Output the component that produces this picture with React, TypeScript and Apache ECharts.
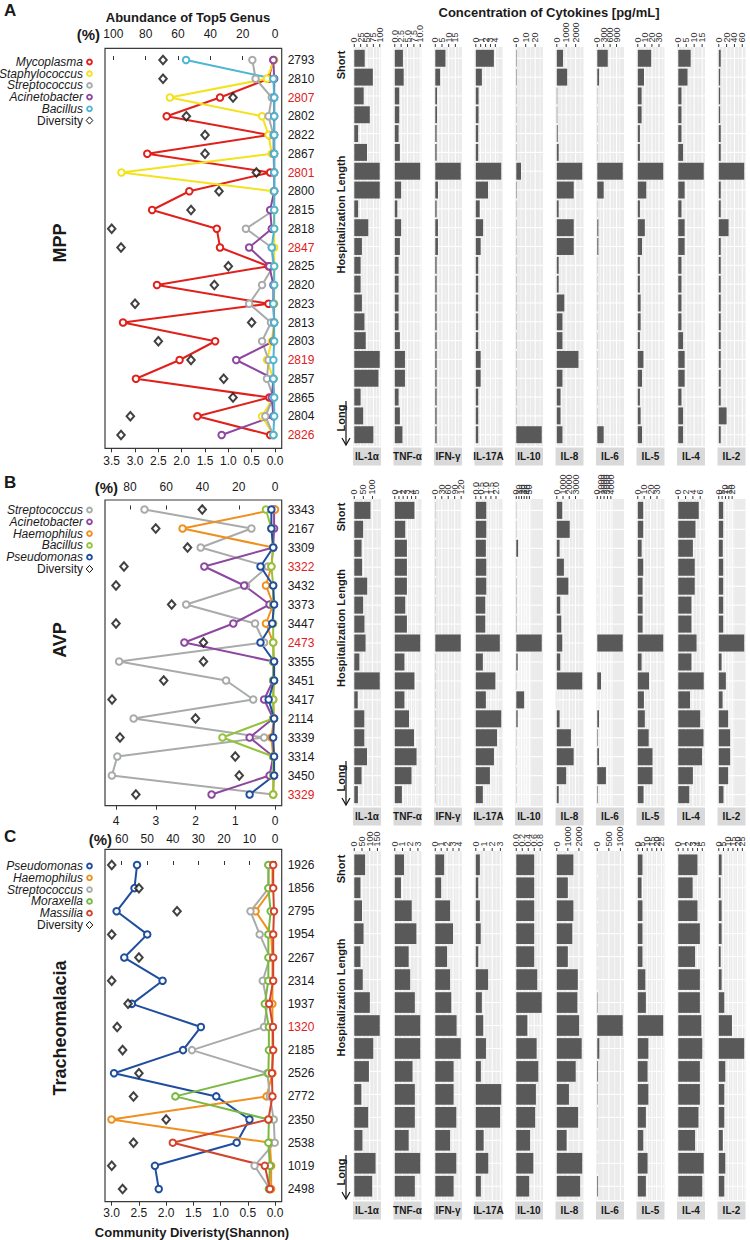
import React, { useEffect, useRef } from "react";
import * as echarts from "echarts";

const FONT = '"Liberation Sans", Arial, Helvetica, sans-serif';
const CYTOKINES = ["IL-1α", "TNF-α", "IFN-γ", "IL-17A", "IL-10", "IL-8", "IL-6", "IL-5", "IL-4", "IL-2"];

// ---------------- Panel A : MPP ----------------
const idsA = ["2793", "2810", "2807", "2802", "2822", "2867", "2801", "2800", "2815", "2818", "2847", "2825", "2820", "2823", "2813", "2803", "2819", "2857", "2865", "2804", "2826"];
const redIdsA = ["2807", "2801", "2847", "2819", "2826"];
const mycoplasmaA = [1, 4, 34, 67, 3.5, 79, 3, 53, 76, 36, 34, 4, 73, 4, 94, 37, 59, 86, 3.5, 48, 3];
const staphylococcusA = [0.5, 5, 65, 8, 4, 2, 95, 1, 0.5, 0.5, 0.5, 0.5, 0.5, 0.5, 0.5, 2, 5, 1, 1, 8, 1];
const streptococcusA = [14, 12, 2, 4, 1, 1, 0.5, 0.5, 0.5, 18, 2, 1, 8, 16, 2.5, 8, 4, 5, 1, 6, 1];
const acinetobacterA = [1, 0.5, 0.5, 0.5, 0.5, 0.5, 0.5, 0.5, 3, 2, 16, 3.5, 1, 1, 0.5, 1, 24, 1, 2, 1, 33];
const bacillusA = [55, 1, 0.5, 0.5, 0.5, 0.5, 0.5, 0.5, 0.5, 0.5, 2, 0.5, 0.5, 1, 0.5, 0.5, 1, 1, 0.5, 0.5, 1];
const diversityA = [2.4, 2.4, 0.9, 1.9, 1.5, 1.5, 0.4, 1.2, 1.8, 3.5, 3.3, 1.0, 1.3, 3.0, 0.5, 2.5, 1.8, 1.1, 0.9, 3.1, 3.3];
const pctTicksA = [0, 20, 40, 60, 80, 100];
const shannonTicksA = [0, 0.5, 1, 1.5, 2, 2.5, 3, 3.5];
const il1aA = [41, 73, 37, 61, 15, 50, 100, 100, 15, 55, 30, 25, 25, 30, 40, 45, 100, 95, 25, 35, 75];
const tnfA = [3.2, 3.5, 1.75, 1.75, 1.5, 2, 10, 2.5, 1, 2.5, 2, 1.5, 1.5, 1.5, 1.5, 2, 4, 4, 1.5, 2, 3];
const ifngA = [7.6, 3.6, 1.3, 1.3, 1, 1, 19, 2, 1, 2, 2, 1, 1, 1, 1, 1, 1, 1, 1, 1, 1];
const il17aA = [3.7, 1.25, 0.57, 0.57, 0.5, 0.5, 5.2, 2.5, 0.8, 1.5, 1, 0.5, 0.5, 0.5, 0.5, 0.5, 1, 1, 0.5, 0.5, 0.5];
const il10A = [0.5, 0.5, 0.3, 0.3, 0.3, 0.3, 5, 0.5, 0.3, 0.3, 0.3, 0.3, 0.3, 0.3, 0.3, 0.3, 0.3, 0.3, 0.3, 0.3, 27];
const il8A = [660, 1100, 50, 50, 100, 200, 2700, 1800, 200, 1800, 1800, 200, 200, 800, 600, 600, 2300, 600, 400, 400, 600];
const il6A = [490, 83, 10, 10, 10, 10, 1190, 300, 10, 50, 50, 10, 10, 10, 10, 10, 10, 10, 10, 10, 300];
const il5A = [19, 8.8, 5.4, 5.4, 3, 3, 36, 12, 3, 10, 6, 3, 3, 4, 4, 3, 8, 6, 3, 4, 6];
const il4A = [7.8, 5.8, 2, 2, 2, 3, 16, 4, 2, 4, 4, 2, 2, 2, 2, 3, 4, 4, 2, 3, 3];
const il2A = [5, 3.5, 3.5, 3.5, 5, 5, 65, 5, 5, 25, 5, 5, 5, 5, 5, 5, 5, 5, 5, 20, 5];
const cytoTicksA = [[0, 25, 50, 75, 100], [0, 2.5, 5, 7.5, 10], [0, 5, 10, 15], [0, 1, 2, 3, 4], [0, 10, 20], [0, 1000, 2000], [0, 300, 600, 900], [0, 10, 20, 30], [0, 5, 10, 15], [0, 20, 40, 60]];

// ---------------- Panel B : AVP ----------------
const idsB = ["3343", "2167", "3309", "3322", "3432", "3373", "3447", "2473", "3355", "3451", "3417", "2114", "3339", "3314", "3450", "3329"];
const redIdsB = ["3322", "2473", "3329"];
const streptococcusB = [72, 13, 41, 4, 16, 49, 11, 6, 86, 27, 12, 78, 6, 87, 90, 1];
const acinetobacterB = [0.5, 0.5, 1, 39, 17, 3, 23, 50, 1, 1, 6, 1, 14, 1, 3, 35];
const haemophilusB = [0, 51, 1, 2, 5, 1, 5, 1, 0.5, 0.5, 1, 0.5, 2, 1, 0.5, 1];
const bacillusB = [5, 2, 1, 2, 1, 1, 1, 1, 1, 1, 1, 1, 29, 1, 1, 1];
const pseudomonasB = [2, 2, 1, 8, 1, 0.5, 1.5, 8, 0.5, 0.5, 3.5, 0.5, 1, 0.5, 0.5, 14];
const diversityB = [1.83, 3.0, 2.2, 3.8, 4.0, 2.6, 4.0, 1.8, 1.8, 2.8, 4.1, 2.0, 3.9, 1.0, 0.9, 3.5];
const pctTicksB = [0, 20, 40, 60, 80];
const shannonTicksB = [0, 1, 2, 3, 4];
const il1aB = [89, 49, 40, 43, 71, 49, 56, 62, 28, 140, 19, 55, 55, 70, 40, 20];
const tnfB = [4.7, 2.5, 2.9, 2.9, 2.9, 2.5, 2.9, 6.08, 2.3, 4.7, 2.3, 3.4, 4.6, 5.2, 4.0, 1.7];
const ifngB = [1, 1, 1, 1, 1, 1, 1, 118, 1, 1, 1, 1, 1, 1, 1, 1];
const il17aB = [1.04, 1.04, 1.0, 1.04, 1.04, 0.94, 0.94, 2.38, 0.7, 1.94, 1.0, 2.52, 2.1, 1.8, 1.4, 0.7];
const il10B = [0.8, 0.8, 7, 0.8, 1.2, 1.2, 1.2, 97, 5.4, 0.8, 30, 5.3, 0.8, 0.8, 0.8, 0.8];
const il8B = [880, 2070, 450, 1140, 1850, 555, 715, 877, 555, 4070, 15, 450, 2260, 2700, 1500, 300];
const il6B = [10, 10, 10, 10, 20, 20, 20, 7500, 10, 1100, 10, 510, 170, 510, 2550, 170];
const il5B = [8.5, 8.5, 6, 8.5, 7.5, 7.5, 7.5, 39.7, 5.9, 17.5, 9.6, 11, 17, 23, 23, 9];
const il4B = [5.6, 4.7, 4, 4.5, 4.5, 3.6, 3.6, 5.0, 3.6, 6.96, 3.2, 6.0, 6.9, 6.5, 4, 3];
const il2B = [6.6, 6.6, 6, 6.6, 6.6, 6.6, 6.6, 38, 4.2, 10.6, 5.7, 14, 17, 17, 14, 7];
const cytoTicksB = [[0, 50, 100], [0, 1, 2, 3, 4, 5], [0, 30, 60, 90, 120], [0, 0.5, 1, 1.5, 2], [0, 10, 20, 30, 40, 50], [0, 1000, 2000, 3000], [0, 1000, 2000, 3000, 4000], [0, 10, 20, 30], [0, 2, 4, 6], [0, 5, 10, 15, 20]];

// ---------------- Panel C : Tracheomalacia ----------------
const idsC = ["1926", "1856", "2795", "1954", "2267", "2314", "1937", "1320", "2185", "2526", "2772", "2350", "2538", "1019", "2498"];
const redIdsC = ["1320"];
const pseudomonasC = [54, 55, 62, 50, 59, 44, 56, 29, 36, 63, 23, 10, 15, 47, 45.5];
const haemophilusC = [1, 1, 7.6, 1.5, 1, 1, 1, 1, 1, 1, 3.3, 64, 2, 1.5, 1.5];
const streptococcusC = [2.5, 2.5, 9.6, 6, 2, 4.8, 3, 4.3, 32.5, 3, 2, 0.5, 0.1, 8, 2];
const moraxellaC = [2.6, 2.6, 1.7, 2.6, 2.6, 2.6, 4, 2.4, 2.4, 2.6, 39, 2.4, 2.6, 2, 2.4];
const massiliaC = [0.7, 0.7, 0.4, 0.7, 0.7, 0.7, 2.3, 0.8, 0.7, 1.2, 1, 2.6, 40, 4, 2];
const diversityC = [3.0, 2.5, 1.8, 3.0, 2.5, 3.0, 2.7, 2.9, 2.8, 2.5, 2.6, 2.0, 2.6, 3.0, 2.8];
const pctTicksC = [0, 10, 20, 30, 40, 50, 60];
const shannonTicksC = [0, 0.5, 1, 1.5, 2, 2.5, 3];
const il1aC = [70, 40, 50, 60, 40, 55, 101, 165, 123, 95, 46, 90, 53, 138, 116];
const tnfC = [1.2, 0.8, 2.2, 2.8, 1.8, 2.0, 2.6, 3.3, 3.3, 2.3, 2.6, 2.6, 1.8, 3.3, 2.6];
const ifngC = [1.5, 1.0, 2.5, 3.0, 2.0, 2.5, 2.7, 3.6, 4.3, 3.1, 3.1, 3.55, 2.5, 3.55, 3.1];
const il17aC = [0.5, 0.3, 0.5, 0.6, 0.3, 1.5, 0.74, 0.91, 1.24, 0.62, 3.1, 2.97, 0.96, 1.52, 0.62];
const il10C = [0.6, 0.6, 0.6, 0.6, 0.6, 0.7, 0.85, 0.37, 0.68, 0.735, 0.655, 0.63, 0.46, 0.57, 0.43];
const il8C = [1500, 1000, 1500, 1400, 1000, 1900, 1860, 2020, 2250, 1710, 1100, 1930, 890, 2300, 2110];
const il6C = [5, 5, 5, 5, 5, 5, 18, 1100, 88, 33, 18, 10, 5, 5, 33];
const il5C = [5, 4, 5, 5, 5, 8, 8.6, 27, 11.2, 10.4, 11.2, 8.6, 5.8, 10.4, 8.6];
const il4C = [4, 3, 4, 4.5, 3.5, 4.5, 4.5, 4.8, 5.0, 4.5, 4.5, 4.2, 3.5, 5.3, 5.0];
const il2C = [3, 2, 3, 3, 2, 3, 5.8, 14, 27, 6.9, 5.8, 5.8, 4.3, 6.9, 5.8];
const cytoTicksC = [[0, 50, 100, 150], [0, 1, 2, 3], [0, 1, 2, 3, 4], [0, 1, 2, 3], [0, 0.2, 0.4, 0.6, 0.8], [0, 1000, 2000], [0, 500, 1000], [0, 5, 10, 15, 20, 25], [0, 1, 2, 3, 4, 5], [0, 5, 10, 15, 20, 25]];

// ---------------- colours ----------------
const C_RED = "#e0201b";
const C_YELLOW = "#f3e21c";
const C_GRAY = "#a9abab";
const C_PURPLE = "#8e479f";
const C_CYAN = "#4db6d3";
const C_ORANGE = "#ef901e";
const C_LIME = "#93c33b";
const C_BLUE = "#1f4e9e";
const C_GREEN = "#78b843";
const C_BRICK = "#d4432b";

// ---------------- layout (positions only) ----------------
const BOX_LEFT = 105;
const BOX_RIGHT = 281.7;
const ZERO_X = 275;
const CYTO_LEFT = 353;
const CYTO_STEP = 40.5;
const CYTO_W = 28;

const panels = [
  {
    letter: "A", letterY: 10, name: "MPP", nameY: 243,
    ids: idsA, red: redIdsA,
    genera: [
      { name: "Mycoplasma", color: C_RED, values: mycoplasmaA },
      { name: "Staphylococcus", color: C_YELLOW, values: staphylococcusA },
      { name: "Streptococcus", color: C_GRAY, values: streptococcusA },
      { name: "Acinetobacter", color: C_PURPLE, values: acinetobacterA },
      { name: "Bacillus", color: C_CYAN, values: bacillusA },
    ],
    diversity: diversityA, pctTicks: pctTicksA, shTicks: shannonTicksA, shDec: 1,
    cyto: [il1aA, tnfA, ifngA, il17aA, il10A, il8A, il6A, il5A, il4A, il2A], cytoTicks: cytoTicksA,
    boxTop: 48.3, boxBottom: 448.3, row0: 60, step: 18.75, pctPx: 1.617, shPx: 46.66,
    topMargin: 8, botMargin: 7, pctLabelRight: 100, pctLabelY: 34,
    legendY: 62, legendStep: 11.7, cTop: 47, cBottom: 446,
  },
  {
    letter: "B", letterY: 482, name: "AVP", nameY: 640,
    ids: idsB, red: redIdsB,
    genera: [
      { name: "Streptococcus", color: C_GRAY, values: streptococcusB },
      { name: "Acinetobacter", color: C_PURPLE, values: acinetobacterB },
      { name: "Haemophilus", color: C_ORANGE, values: haemophilusB },
      { name: "Bacillus", color: C_LIME, values: bacillusB },
      { name: "Pseudomonas", color: C_BLUE, values: pseudomonasB },
    ],
    diversity: diversityB, pctTicks: pctTicksB, shTicks: shannonTicksB, shDec: 0,
    cyto: [il1aB, tnfB, ifngB, il17aB, il10B, il8B, il6B, il5B, il4B, il2B], cytoTicks: cytoTicksB,
    boxTop: 500, boxBottom: 805.7, row0: 509.5, step: 19, pctPx: 1.8125, shPx: 39.75,
    topMargin: 7, botMargin: 9, pctLabelRight: 118, pctLabelY: 487,
    legendY: 510, legendStep: 11.8, cTop: 499, cBottom: 806,
  },
  {
    letter: "C", letterY: 836, name: "Tracheomalacia", nameY: 1028,
    ids: idsC, red: redIdsC,
    genera: [
      { name: "Pseudomonas", color: C_BLUE, values: pseudomonasC },
      { name: "Haemophilus", color: C_ORANGE, values: haemophilusC },
      { name: "Streptococcus", color: C_GRAY, values: streptococcusC },
      { name: "Moraxella", color: C_GREEN, values: moraxellaC },
      { name: "Massilia", color: C_BRICK, values: massiliaC },
    ],
    diversity: diversityC, pctTicks: pctTicksC, shTicks: shannonTicksC, shDec: 1,
    cyto: [il1aC, tnfC, ifngC, il17aC, il10C, il8C, il6C, il5C, il4C, il2C], cytoTicks: cytoTicksC,
    boxTop: 849.3, boxBottom: 1201.7, row0: 865, step: 23.14, pctPx: 2.555, shPx: 54.43,
    topMargin: 4, botMargin: 5, pctLabelRight: 112, pctLabelY: 839,
    legendY: 866, legendStep: 11.8, cTop: 851, cBottom: 1200,
  },
];

function fmtTick(ticks: number[]) {
  const dec = ticks.some((t) => Math.abs(t - Math.round(t)) > 1e-9) ? 1 : 0;
  return (v: number) => v.toFixed(dec);
}

function buildOption() {
  const grid: any[] = [];
  const xAxis: any[] = [];
  const yAxis: any[] = [];
  const series: any[] = [];
  const graphic: any[] = [];

  const txt = (text: string, x: number, y: number, opts: any = {}) => ({
    type: "text",
    x, y,
    rotation: opts.rotation || 0,
    silent: true,
    style: {
      text,
      fill: opts.fill || "#1a1a1a",
      fontSize: opts.fontSize || 12,
      fontWeight: opts.fontWeight || "normal",
      fontStyle: opts.fontStyle || "normal",
      fontFamily: FONT,
      align: opts.align || "center",
      verticalAlign: "middle",
      textAlign: opts.align || "center",
      textVerticalAlign: "middle",
    },
  });

  graphic.push(txt("Abundance of Top5 Genus", 188, 17, { fontWeight: "bold", fontSize: 13 }));
  graphic.push(txt("Concentration of Cytokines [pg/mL]", 549, 12, { fontWeight: "bold", fontSize: 13 }));
  graphic.push(txt("Community Diveristy(Shannon)", 192, 1232, { fontWeight: "bold", fontSize: 13 }));

  const labelCommon = { interval: 0, hideOverlap: false, showMinLabel: true, showMaxLabel: true };

  panels.forEach((p) => {
    const n = p.ids.length;
    graphic.push(txt(p.letter, 4, p.letterY, { fontWeight: "bold", fontSize: 17, align: "left" }));
    graphic.push(txt(p.name, 60, p.nameY, { fontWeight: "bold", fontSize: 18, rotation: Math.PI / 2 }));
    graphic.push(txt("(%)", p.pctLabelRight, p.pctLabelY, { fontWeight: "bold", fontSize: 15, align: "right" }));

    // legend
    p.genera.forEach((g, k) => {
      const y = p.legendY + k * p.legendStep;
      graphic.push(txt(g.name, 83, y, { fontStyle: "italic", fontSize: 12, align: "right" }));
      graphic.push({ type: "circle", silent: true, shape: { cx: 89.5, cy: y, r: 2.4 }, style: { fill: "#fff", stroke: g.color, lineWidth: 1.9 } });
    });
    const dy = p.legendY + 5 * p.legendStep;
    graphic.push(txt("Diversity", 83, dy, { fontSize: 12, align: "right" }));
    graphic.push({ type: "polygon", silent: true, shape: { points: [[89.5, dy - 3.6], [92.8, dy], [89.5, dy + 3.6], [86.2, dy]] }, style: { fill: "#fff", stroke: "#111", lineWidth: 1 } });

    // left plot grid
    const gi = grid.length;
    grid.push({
      left: BOX_LEFT, top: p.boxTop, width: BOX_RIGHT - BOX_LEFT, height: p.boxBottom - p.boxTop,
      show: true, borderColor: "#3a3a3a", borderWidth: 1.2, backgroundColor: "transparent",
    });
    const pctMin = -(BOX_RIGHT - ZERO_X) / p.pctPx;
    const pctMax = (ZERO_X - BOX_LEFT) / p.pctPx;
    const shMin = -(BOX_RIGHT - ZERO_X) / p.shPx;
    const shMax = (ZERO_X - BOX_LEFT) / p.shPx;
    const xTop = xAxis.length;
    xAxis.push({
      type: "value", gridIndex: gi, position: "top", inverse: true, min: pctMin, max: pctMax,
      axisLine: { show: false }, splitLine: { show: false },
      axisTick: { show: true, customValues: p.pctTicks, length: 4, lineStyle: { color: "#333" } },
      axisLabel: { ...labelCommon, customValues: p.pctTicks, margin: p.topMargin, fontSize: 12, color: "#1a1a1a", fontFamily: FONT },
    });
    const xBot = xAxis.length;
    xAxis.push({
      type: "value", gridIndex: gi, position: "bottom", inverse: true, min: shMin, max: shMax,
      axisLine: { show: false }, splitLine: { show: false },
      axisTick: { show: true, customValues: p.shTicks, length: 4, lineStyle: { color: "#333" } },
      axisLabel: { ...labelCommon, customValues: p.shTicks, margin: p.botMargin, fontSize: 12, color: "#1a1a1a", fontFamily: FONT, formatter: (v: number) => v.toFixed(p.shDec) },
    });
    const yi = yAxis.length;
    yAxis.push({
      type: "value", gridIndex: gi, position: "right", inverse: true,
      min: (p.boxTop - p.row0) / p.step, max: (p.boxBottom - p.row0) / p.step,
      axisLine: { show: false }, axisTick: { show: false }, splitLine: { show: false },
      axisLabel: {
        ...labelCommon,
        customValues: p.ids.map((_, i) => i), margin: 6,
        formatter: (v: number) => {
          const id = p.ids[Math.round(v)];
          return p.red.includes(id) ? `{r|${id}}` : `{n|${id}}`;
        },
        rich: {
          r: { color: C_RED, fontSize: 12, fontFamily: FONT },
          n: { color: "#1a1a1a", fontSize: 12, fontFamily: FONT },
        },
      },
    });
    p.genera.forEach((g) => {
      series.push({
        type: "line", name: g.name, xAxisIndex: xTop, yAxisIndex: yi,
        data: g.values.map((v, i) => [v, i]),
        symbol: "emptyCircle", symbolSize: 6.5, clip: false,
        lineStyle: { color: g.color, width: 2 },
        itemStyle: { color: g.color, borderColor: g.color, borderWidth: 2 },
        silent: true,
      });
    });
    series.push({
      type: "scatter", name: "Diversity", xAxisIndex: xBot, yAxisIndex: yi,
      data: p.diversity.map((v, i) => [v, i]),
      symbol: "emptyDiamond", symbolSize: [7.5, 8.5],
      itemStyle: { color: "#111", borderColor: "#111", borderWidth: 1 },
      silent: true, z: 5,
    });

    // hospitalization length label
    const hx = 341;
    const top = p.cTop, bot = p.cBottom;
    graphic.push(txt("Short", hx, top + 18, { fontWeight: "bold", fontSize: 11, rotation: Math.PI / 2 }));
    const hlY = top + (bot - top) * 0.42;
    graphic.push(txt("Hospitalization Length", hx, hlY, { fontWeight: "bold", fontSize: 11, rotation: Math.PI / 2 }));
    graphic.push(txt("Long", hx, bot - 28, { fontWeight: "bold", fontSize: 11, rotation: Math.PI / 2 }));
    graphic.push({ type: "line", silent: true, shape: { x1: hx + 5, y1: bot - 45, x2: hx + 5, y2: bot - 2 }, style: { stroke: "#111", lineWidth: 1.2 } });
    graphic.push({ type: "polyline", silent: true, shape: { points: [[hx + 1, bot - 8], [hx + 5, bot - 1], [hx + 9, bot - 8]] }, style: { stroke: "#111", lineWidth: 1.2, fill: null } });

    // cytokine panels
    CYTOKINES.forEach((cname, c) => {
      const vals = p.cyto[c];
      const ticks = p.cytoTicks[c];
      const fmt = fmtTick(ticks);
      const M = Math.max(...vals);
      const lo = -0.05 * M, hi = 1.05 * M;
      const left = CYTO_LEFT + c * CYTO_STEP;
      const cg = grid.length;
      grid.push({ left, width: CYTO_W, top: p.cTop, height: p.cBottom - p.cTop, show: true, backgroundColor: "#ebebeb", borderWidth: 0, borderColor: "transparent" });
      const cx = xAxis.length;
      xAxis.push({ type: "value", gridIndex: cg, position: "top", min: lo, max: hi, show: false });
      const cy = yAxis.length;
      yAxis.push({ type: "value", gridIndex: cg, inverse: true, min: -0.6, max: n - 0.4, show: false });
      // vertical white grid lines (major at ticks, minor between)
      const step = ticks[1] - ticks[0];
      const gl: number[][] = [];
      ticks.forEach((t) => gl.push([t, 1]));
      ticks.forEach((t) => { if (t + step / 2 <= hi) gl.push([t + step / 2, 0]); });
      series.push({
        type: "custom", xAxisIndex: cx, yAxisIndex: cy, silent: true, z: 1, clip: false,
        data: gl,
        renderItem: (params: any, api: any) => {
          const cs = params.coordSys;
          const x = api.coord([api.value(0), 0])[0];
          return { type: "line", shape: { x1: x, y1: cs.y, x2: x, y2: cs.y + cs.height }, style: { stroke: "#ffffff", lineWidth: api.value(1) ? 1.1 : 0.5 } };
        },
      });
      // tick marks + rotated tick labels on top
      series.push({
        type: "custom", xAxisIndex: cx, yAxisIndex: cy, silent: true, z: 3, clip: false,
        data: ticks.map((t) => [t]),
        renderItem: (params: any, api: any) => {
          const cs = params.coordSys;
          const t = api.value(0);
          const x = api.coord([t, 0])[0];
          return {
            type: "group",
            children: [
              { type: "line", shape: { x1: x, y1: cs.y - 3, x2: x, y2: cs.y }, style: { stroke: "#333", lineWidth: 1 } },
              {
                type: "text", x: x, y: cs.y - 4.5, rotation: Math.PI / 2,
                style: { text: fmt(t), fill: "#333", fontSize: 9, fontFamily: FONT, align: "left", verticalAlign: "middle", textAlign: "left", textVerticalAlign: "middle" },
              },
            ],
          };
        },
      });
      series.push({
        type: "custom", xAxisIndex: cx, yAxisIndex: cy, silent: true, z: 2, clip: false,
        data: vals.map((v, i) => [v, i]),
        renderItem: (params: any, api: any) => {
          const cs = params.coordSys;
          const i = api.value(1);
          const p0 = api.coord([0, i - 0.45]);
          const p1 = api.coord([api.value(0), i + 0.45]);
          const yc = api.coord([0, i])[1];
          return {
            type: "group",
            children: [
              { type: "line", shape: { x1: cs.x, y1: yc, x2: cs.x + cs.width, y2: yc }, style: { stroke: "#ffffff", lineWidth: 1.1 } },
              { type: "rect", shape: { x: p0[0], y: Math.min(p0[1], p1[1]), width: p1[0] - p0[0], height: Math.abs(p1[1] - p0[1]) }, style: { fill: "#595959" } },
            ],
          };
        },
      });
      // strip label
      graphic.push({ type: "rect", silent: true, shape: { x: left, y: p.cBottom + 1.5, width: CYTO_W, height: 18 }, style: { fill: "#d9d9d9" } });
      graphic.push(txt(cname, left + CYTO_W / 2, p.cBottom + 10.5, { fontWeight: "bold", fontSize: 10 }));
    });
  });

  return { animation: false, backgroundColor: "#ffffff", grid, xAxis, yAxis, series, graphic };
}

export default function App() {
  const ref = useRef<HTMLDivElement>(null);
  useEffect(() => {
    document.body.style.margin = "0";
    const chart = echarts.init(ref.current!, null, { renderer: "svg" });
    chart.setOption(buildOption());
    return () => chart.dispose();
  }, []);
  return <div ref={ref} style={{ width: 750, height: 1240 }} />;
}
